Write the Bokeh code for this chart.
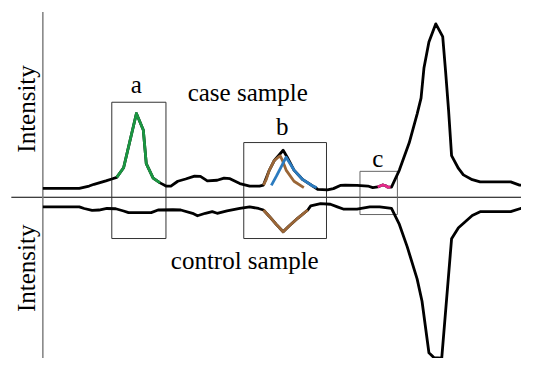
from bokeh.plotting import figure
from bokeh.models import Range1d
from bokeh.core.properties import value
from bokeh.embed import file_html
from bokeh.resources import INLINE

# ---- data (retention-time axis, intensity above/below the zero line) ----
case_rt = [43, 80, 90, 95, 107, 113, 118, 125, 138, 145, 148, 155, 162, 168, 173, 180, 188, 197,
           203, 210, 220, 227, 233, 243, 253, 263, 267, 273, 278, 282, 287, 291, 298, 307, 317,
           322, 332, 338, 345, 350, 362, 373, 378, 383, 386, 388, 391, 393, 397, 405, 415, 423,
           427, 430, 435, 442, 449, 452, 455, 458, 465, 470, 479, 487, 518, 527, 537]
case_int = [9.3, 9.3, 11.7, 13.5, 17, 19, 20.7, 30.7, 87.3, 70, 35, 20, 15, 11.7, 11.7, 16.7, 19,
            22, 21.7, 17, 17.7, 20, 19.3, 14.3, 11.7, 11.7, 12.7, 28.3, 38.3, 43, 49, 42, 28.3,
            18.3, 11.7, 8.3, 7.7, 9, 12.3, 12.7, 12.3, 11.7, 10, 10.7, 12, 12.8, 12, 10.7, 10.5,
            28.3, 56.7, 86.7, 103.3, 135, 161.7, 180.7, 167.3, 130, 90, 43.3, 30, 23.3, 18.3, 16,
            16, 12.7, 12.3]

control_rt = [43, 80, 85, 93, 100, 108, 117, 125, 130, 153, 160, 175, 183, 195, 200, 208, 215,
              220, 230, 243, 253, 262, 267, 273, 280, 287, 293, 302, 312, 315, 325, 335, 342, 348,
              362, 375, 385, 397, 405, 413, 423, 428, 435, 440, 448, 458, 465, 479, 487, 518, 528,
              537]
control_int = [10, 10, 11.7, 13.7, 13.3, 11.7, 12, 14.3, 16, 16, 13.3, 13, 13.3, 16.7, 19.3,
               16.7, 15, 16.7, 14.3, 11.7, 10, 11.7, 13.3, 20, 28.3, 36, 30, 21.7, 13.3, 9, 6.7,
               7.3, 10, 12.3, 12.3, 10, 10, 11.7, 28.3, 51.7, 85, 108.3, 162, 167, 167.7, 43.3,
               31.7, 19, 15, 15, 11.7, 11]

# peak a (green, case only)
peak_a_rt = [118, 125, 138, 145, 148, 155, 162]
peak_a_int = [20.7, 30.7, 87.3, 70, 35, 20, 15]

# peak b, compound 1 (brown) in case and control
peak_b1_rt = [267, 270, 273, 278, 282, 284, 286, 290, 298, 308]
peak_b1_int = [12.7, 19, 28.3, 38.3, 41.7, 43, 39, 28.3, 16.7, 10]
peak_b1_ctrl_rt = [267, 273, 280, 287, 293, 302, 312]
peak_b1_ctrl_int = [13.3, 20, 28.3, 36, 30, 21.7, 13.3]

# peak b, compound 2 (blue, case only)
peak_b2_rt = [275, 280, 285, 290, 298, 307, 317, 321]
peak_b2_int = [12.3, 21.7, 31.7, 41.7, 28.3, 18.3, 11.7, 10]

# peak c (pink, case only)
peak_c_rt = [383, 386, 388, 391, 393, 396]
peak_c_int = [10.7, 12, 12.8, 12, 10.7, 10.5]

# highlight boxes: left, right, top, bottom
box_names = ["a", "b", "c"]
box_left = [113, 247, 365]
box_right = [168, 331, 403]
box_top = [99, 57, 27]
box_bottom = [-43, -43, -18]
box_colors = ["#333333", "#333333", "#666666"]

label_x = [138, 286, 383]
label_y = [118, 74, 40]

# ---- figure ----
p = figure(width=521, height=358, output_backend="svg", toolbar_location=None,
           x_range=Range1d(0, 529), y_range=Range1d(-168, 205), min_border=0)
p.axis.visible = False
p.grid.visible = False
p.outline_line_color = None
p.background_fill_color = "white"
p.border_fill_color = "white"

# axes lines
p.segment(x0=[11], y0=[0], x1=[537], y1=[0], line_color="black", line_width=1)
p.segment(x0=[43], y0=[193], x1=[43], y1=[-170], line_color="#808080", line_width=1.5)

# boxes
p.quad(left=box_left, right=box_right, top=box_top, bottom=box_bottom,
       fill_color=None, line_color=box_colors, line_width=1)

LW = 2.8
# main curves
p.line(case_rt, case_int, line_color="black", line_width=LW, line_join="round")
p.line(control_rt, [-v for v in control_int], line_color="black", line_width=LW, line_join="round")

# coloured compound peaks
p.line(peak_a_rt, peak_a_int, line_color="#1a9641", line_width=LW, line_join="round")
p.line(peak_b1_rt, peak_b1_int, line_color="#9a6637", line_width=LW, line_join="round")
p.line(peak_b2_rt, peak_b2_int, line_color="#2b7bbf", line_width=LW, line_join="round")
p.line(peak_b1_ctrl_rt, [-v for v in peak_b1_ctrl_int], line_color="#9a6637", line_width=LW,
       line_join="round")
p.line(peak_c_rt, peak_c_int, line_color="#e7298a", line_width=LW, line_join="round")

FONT = value("Liberation Serif")
FS = value("25px")

p.text(x=label_x, y=label_y, text=box_names, text_font=FONT, text_font_size=FS,
       text_align="center", text_baseline="middle", text_color="black")
p.text(x=[251, 248], y=[109, -66], text=["case sample", "control sample"], text_font=FONT,
       text_font_size=FS, text_align="center", text_baseline="middle", text_color="black")
p.text(x=[26, 26], y=[92, -74], text=["Intensity", "Intensity"], angle=1.5708, text_font=FONT,
       text_font_size=FS, text_align="center", text_baseline="middle", text_color="black")

open("out.html", "w").write(file_html(p, INLINE))
